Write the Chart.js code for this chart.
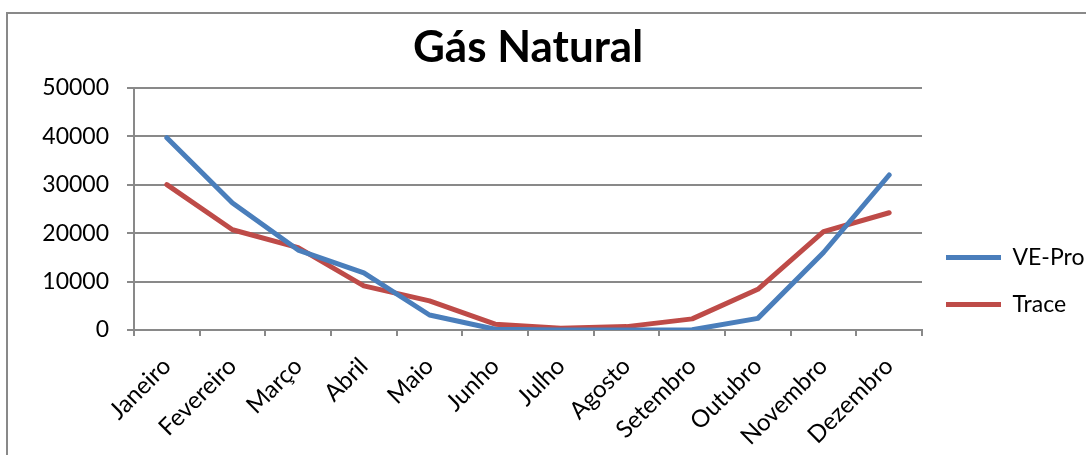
<!DOCTYPE html>
<html>
<head>
<meta charset="utf-8">
<script src="https://cdn.jsdelivr.net/npm/chart.js@4.4.1/dist/chart.umd.min.js"></script>
<style>
  html, body { margin: 0; padding: 0; background: #fff; }
  #wrap { position: relative; width: 1086px; height: 455px; }
</style>
</head>
<body>
<div id="wrap"><canvas id="c" width="1086" height="455"></canvas></div>
<script>
const months = ['Janeiro','Fevereiro','Março','Abril','Maio','Junho','Julho','Agosto','Setembro','Outubro','Novembro','Dezembro'];
const vePro = [39700, 26200, 16500, 11800, 3100, 150, 0, 0, 50, 2400, 16000, 32000];
const trace = [30000, 20700, 17000, 9100, 6000, 1200, 350, 700, 2300, 8400, 20300, 24200];
const yTicks = [0, 10000, 20000, 30000, 40000, 50000];
const seriesNames = ['VE-Pro', 'Trace'];
const chartTitle = 'Gás Natural';

const GRID = '#898989';
const FONT = 'Lato';

const frame = {
  id: 'frame',
  beforeDraw(chart) {
    const ctx = chart.ctx;
    ctx.save();
    ctx.fillStyle = '#fff';
    ctx.fillRect(0, 0, chart.width, chart.height);
    ctx.strokeStyle = GRID;
    ctx.lineWidth = 2;
    ctx.beginPath();
    ctx.moveTo(7, chart.height);
    ctx.lineTo(7, 13);
    ctx.lineTo(chart.width, 13);
    ctx.stroke();
    ctx.restore();
  }
};

new Chart(document.getElementById('c'), {
  type: 'line',
  data: {
    labels: months,
    datasets: [
      { label: seriesNames[0], data: vePro, borderColor: '#4A7EBB', backgroundColor: '#4A7EBB',
        borderWidth: 5, pointRadius: 0, tension: 0, borderCapStyle: 'round', borderJoinStyle: 'round' },
      { label: seriesNames[1], data: trace, borderColor: '#BE4B48', backgroundColor: '#BE4B48',
        borderWidth: 5, pointRadius: 0, tension: 0, borderCapStyle: 'round', borderJoinStyle: 'round' }
    ]
  },
  options: {
    responsive: false,
    animation: false,
    devicePixelRatio: 1,
    layout: { padding: 0 },
    plugins: {
      tooltip: { enabled: false },
      title: {
        display: true,
        text: chartTitle,
        fullSize: false,
        color: '#000',
        font: { family: FONT, size: 44, weight: 'bold', lineHeight: 1.2 },
        padding: { top: 21, bottom: 14 }
      },
      legend: {
        display: true,
        position: 'right',
        align: 'start',
        fullSize: true,
        maxWidth: 164,
        title: { display: true, text: ' ', font: { size: 10, lineHeight: 1 }, padding: { top: 212, bottom: 0 } },
        labels: {
          usePointStyle: true,
          pointStyle: 'line',
          pointStyleWidth: 55,
          boxWidth: 55,
          padding: 24,
          color: '#000',
          font: { family: FONT, size: 23 }
        }
      }
    },
    scales: {
      x: {
        type: 'category',
        offset: true,
        afterFit(scale) { scale.height = 125; },
        grid: { display: true, offset: true, drawOnChartArea: false, drawTicks: true, tickLength: 6, color: GRID, lineWidth: 2 },
        border: { display: true, color: GRID, width: 2 },
        ticks: {
          autoSkip: false,
          maxRotation: 45,
          minRotation: 45,
          padding: 16,
          color: '#000',
          font: { family: FONT, size: 24 }
        }
      },
      y: {
        min: yTicks[0],
        max: yTicks[yTicks.length - 1],
        afterFit(scale) { scale.width = 134; },
        afterBuildTicks(scale) { scale.ticks = yTicks.map(v => ({ value: v })); },
        grid: { display: true, drawOnChartArea: true, drawTicks: true, tickLength: 7, color: GRID, lineWidth: 2 },
        border: { display: true, color: GRID, width: 2 },
        ticks: {
          padding: 18,
          color: '#000',
          font: { family: FONT, size: 23 },
          callback: (v) => String(v)
        }
      }
    }
  },
  plugins: [frame]
});
</script>
</body>
</html>
